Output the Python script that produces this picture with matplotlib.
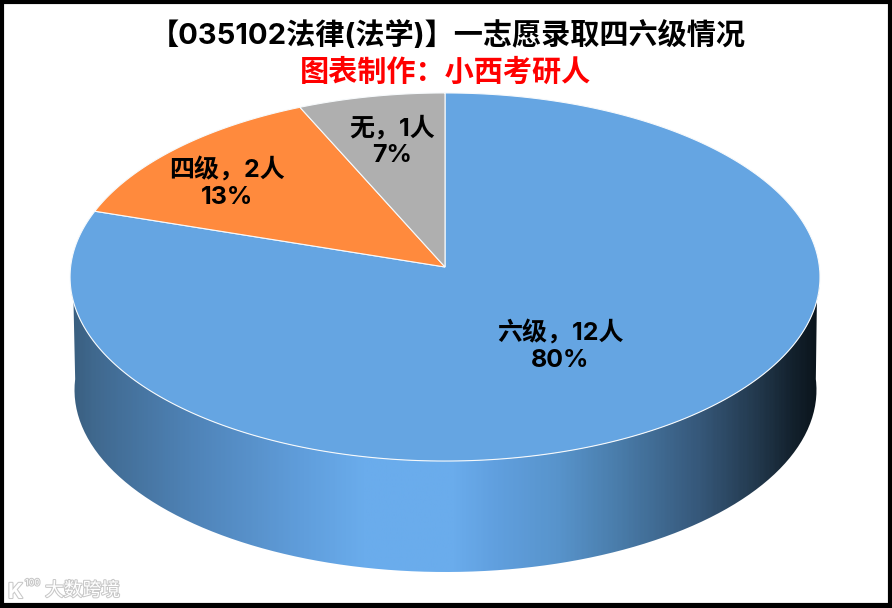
import numpy as np
import matplotlib
matplotlib.use('Agg')
import matplotlib.pyplot as plt
import matplotlib.patheffects as pe
from matplotlib.colors import LinearSegmentedColormap
from matplotlib.patches import PathPatch, Rectangle
from matplotlib.path import Path

plt.rcParams['font.family'] = ['Inter', 'Noto Sans CJK SC', 'DejaVu Sans']

# data
categories = ['六级', '四级', '无']
counts = [12, 2, 1]
percents = ['80%', '13%', '7%']
colors = ['#65A5E2', '#FF8A3D', '#AFAFAF']
title = '【035102法律(法学)】一志愿录取四六级情况'
subtitle = '图表制作：小西考研人'

# shape of the tilted disc, in pixels
cx, cy = 445.0, 267.0
rx = 374.4
ry = 183.5
tilt = -0.0543

def project(angle):
    # angle clockwise from the top of the disc, radians
    u = np.sin(angle)
    v = -np.cos(angle)
    d = 1 + tilt * v
    return cx + rx * u / d, cy + ry * v / d

fig = plt.figure(figsize=(8.92, 6.08), dpi=100)
ax = fig.add_axes([0, 0, 1, 1])
ax.set_xlim(0, 892)
ax.set_ylim(608, 0)
ax.axis('off')

# side wall: gradient clipped to the outline
t = np.linspace(np.pi / 2 - 0.06, 3 * np.pi / 2 + 0.06, 200)
xt, yt = project(t)
ang = np.linspace(3 * np.pi / 2 + 0.06, np.pi / 2 - 0.06, 200)
xb = 445.5 + 371 * np.sin(ang)
yb = 390 - 182 * np.cos(ang)
outline = Path(np.vstack([np.c_[xt, yt], np.c_[xb, yb]]))
side_cmap = LinearSegmentedColormap.from_list('side', [
    (0.00, '#3A5F80'), (0.03, '#40698F'), (0.17, '#5085BA'), (0.31, '#609EDC'),
    (0.39, '#6AACEC'), (0.51, '#6AACEC'), (0.57, '#609FDE'), (0.65, '#5894CC'),
    (0.73, '#4A7DAB'), (0.84, '#36587A'), (0.92, '#22384C'), (0.973, '#111E29'),
    (1.00, '#0B141C')])
grad = ax.imshow(np.linspace(0, 1, 400)[None, :], cmap=side_cmap, aspect='auto',
                 extent=[71, 820, 600, 270], zorder=1)
ax.set_xlim(0, 892)
ax.set_ylim(608, 0)
grad.set_clip_path(PathPatch(outline, transform=ax.transData))

# top face
total = sum(counts)
edges = np.cumsum([0] + counts) / total * 2 * np.pi
for i in range(len(counts)):
    a = np.linspace(edges[i], edges[i + 1], 300)
    x, y = project(a)
    ax.fill(np.r_[cx, x], np.r_[cy, y], color=colors[i], ec='#F7FAFC', lw=0.8, zorder=2)

# labels
label_pos = [(560, 346), (227, 183), (392, 141)]
for i in range(len(counts)):
    ax.text(label_pos[i][0], label_pos[i][1],
            '%s，%d人\n%s' % (categories[i], counts[i], percents[i]),
            ha='center', va='center', fontsize=18, fontweight='bold',
            linespacing=1.2, color='black', zorder=3)

ax.text(448, 36, title, ha='center', va='center', fontsize=21, fontweight='bold', color='black')
ax.text(446, 73, subtitle, ha='center', va='center', fontsize=21, fontweight='bold', color='#FF0000')

# watermark
halo = [pe.withStroke(linewidth=1.5, foreground='#C8C8C8')]
ax.text(45, 591, '大数跨境', ha='left', va='center', fontsize=13.5, color='white', path_effects=halo, zorder=4)
ax.text(8, 592, 'K', ha='left', va='center', fontsize=15, fontweight='bold', color='white', path_effects=halo, zorder=4)
ax.text(25, 583, '100', ha='left', va='center', fontsize=6.5, color='white', path_effects=halo, zorder=4)

# frame
ax.add_patch(Rectangle((1.5, 1.5), 888, 603, fc='none', ec='black', lw=3, zorder=5))
ax.add_patch(Rectangle((0, 603), 892, 5, fc='black', ec='none', zorder=5))
ax.add_patch(Rectangle((888, 0), 4, 608, fc='black', ec='none', zorder=5))

fig.savefig('out.png', dpi=100)
